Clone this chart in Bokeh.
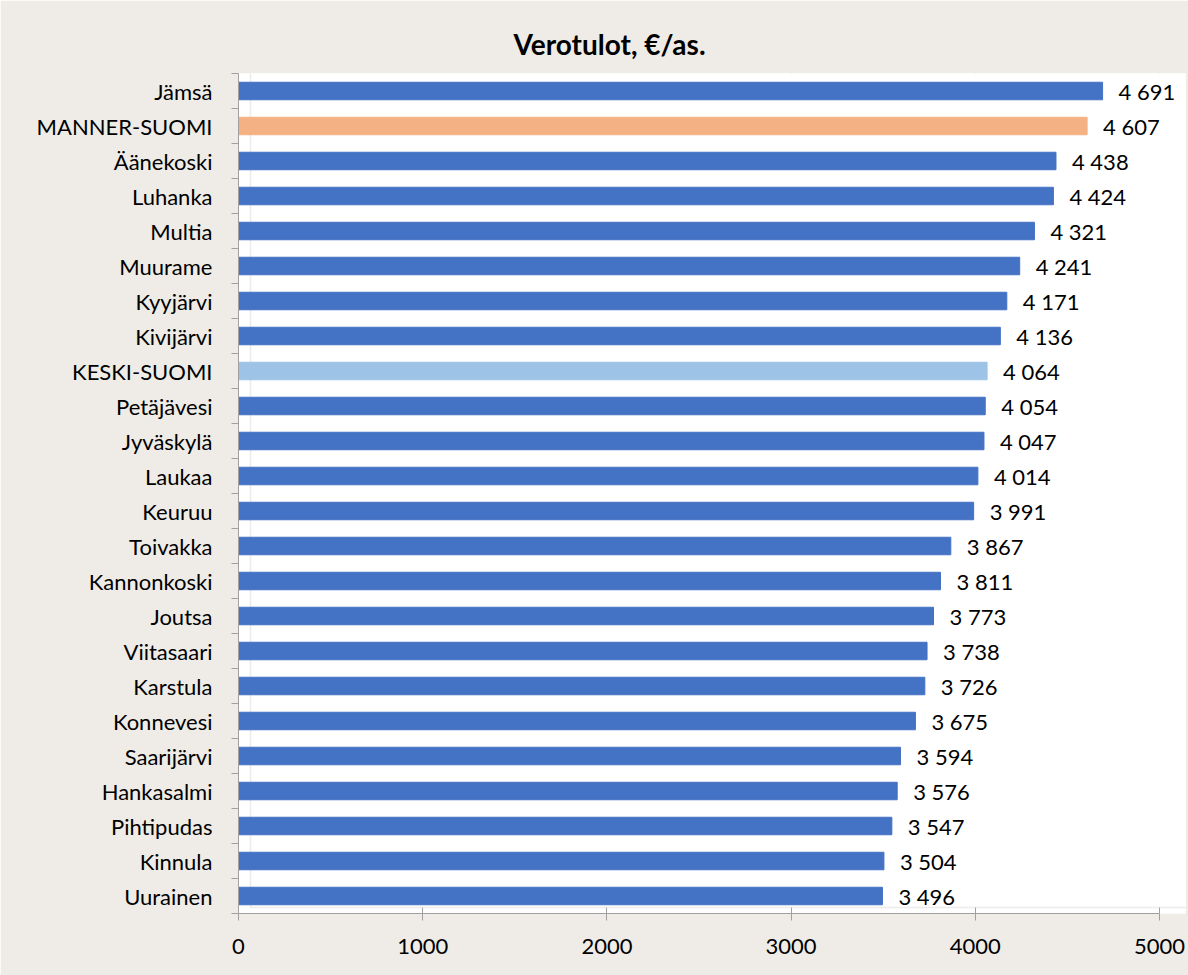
from bokeh.plotting import figure
from bokeh.models import ColumnDataSource, FixedTicker, Range1d, LabelSet, BoxAnnotation
from bokeh.embed import file_html
from bokeh.resources import INLINE
from bokeh.core.properties import value

categories = ["Jämsä", "MANNER-SUOMI", "Äänekoski", "Luhanka", "Multia", "Muurame",
              "Kyyjärvi", "Kivijärvi", "KESKI-SUOMI", "Petäjävesi", "Jyväskylä", "Laukaa",
              "Keuruu", "Toivakka", "Kannonkoski", "Joutsa", "Viitasaari", "Karstula",
              "Konnevesi", "Saarijärvi", "Hankasalmi", "Pihtipudas", "Kinnula", "Uurainen"]
values = [4691, 4607, 4438, 4424, 4321, 4241, 4171, 4136, 4064, 4054, 4047, 4014,
          3991, 3867, 3811, 3773, 3738, 3726, 3675, 3594, 3576, 3547, 3504, 3496]
x_ticks = [0, 1000, 2000, 3000, 4000, 5000]

FONT = "Lato"
n = len(categories)
ypos = [n - 1 - i for i in range(n)]
colors = []
for c in categories:
    if c == "MANNER-SUOMI":
        colors.append("#F4B183")
    elif c == "KESKI-SUOMI":
        colors.append("#9DC3E6")
    else:
        colors.append("#4472C4")
labels = [f"{v:,}".replace(",", " ") for v in values]

src = ColumnDataSource(dict(y=ypos, v=values, c=colors, lab=labels))

# frame spans 238..1185 px; axis value 5000 sits at 1159 px
x_max = 5000 * (1185 - 238) / (1159 - 238)

p = figure(width=1188, height=975, output_backend="svg", toolbar_location=None,
           x_range=Range1d(0, x_max), y_range=Range1d(-0.5, n - 0.5),
           min_border_left=238, min_border_right=3, min_border_top=73, min_border_bottom=62,
           background_fill_color="white", border_fill_color="#EFECE7")
p.outline_line_color = None

# white chart panel with thin grey frame
p.add_layout(BoxAnnotation(left=12, right=1200, top=6, bottom=990,
                           left_units="screen", right_units="screen",
                           top_units="screen", bottom_units="screen",
                           fill_color="white", fill_alpha=1.0,
                           line_color="#BFBFBF", line_width=1.5, level="underlay"))

p.hbar(y="y", right="v", left=0, height=0.5, color="c", source=src)

p.add_layout(LabelSet(x="v", y="y", text="lab", source=src, x_offset=16,
                      text_baseline="middle", text_align="left",
                      text_font=value(FONT), text_font_size="22px", text_color="#000000"))

p.title.text = "Verotulot, €/as."
p.title.text_font = FONT
p.title.text_font_size = "28px"
p.title.text_font_style = "bold"
p.title.align = "left"
p.title.offset = 275
p.title.standoff = 24
p.title.vertical_align = "middle"
p.title.text_color = "#000000"

# x axis
xa = p.xaxis[0]
xa.ticker = FixedTicker(ticks=x_ticks)
xa.bounds = (0, 5000)
xa.axis_line_color = "#a0a0a0"
xa.major_tick_line_color = "#a0a0a0"
xa.major_tick_out = 7
xa.major_tick_in = 0
xa.minor_tick_line_color = None
xa.major_label_text_font = FONT
xa.major_label_text_font_size = "22px"
xa.major_label_text_color = "#000000"
xa.major_label_standoff = 18

# y axis
ya = p.yaxis[0]
ya.ticker = FixedTicker(ticks=ypos, minor_ticks=[k - 0.5 for k in range(n + 1)])
ya.major_label_overrides = {yy: c for yy, c in zip(ypos, categories)}
ya.axis_line_color = "#a0a0a0"
ya.major_tick_line_color = None
ya.minor_tick_line_color = "#a0a0a0"
ya.minor_tick_out = 7
ya.minor_tick_in = 0
ya.major_label_text_font = FONT
ya.major_label_text_font_size = "22px"
ya.major_label_text_color = "#000000"
ya.major_label_standoff = 19

p.xgrid.ticker = FixedTicker(ticks=x_ticks)
p.xgrid.grid_line_color = "#a0a0a0"
p.ygrid.grid_line_color = None

open("out.html", "w").write(file_html(p, INLINE))
